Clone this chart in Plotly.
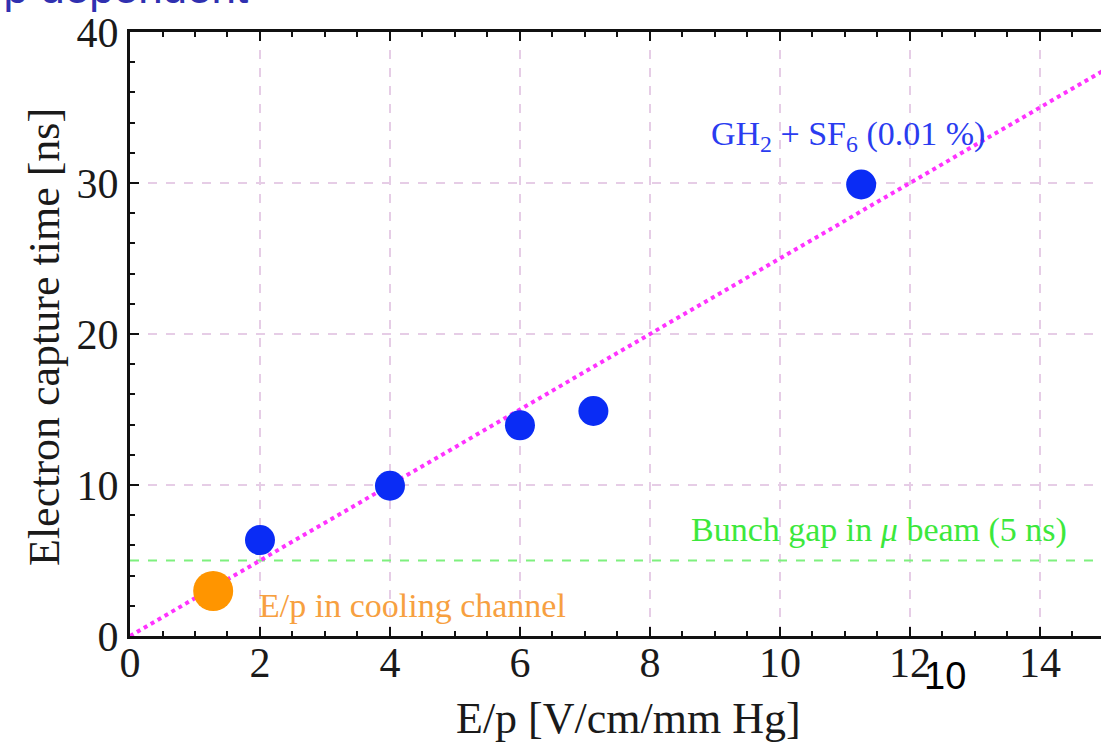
import plotly.graph_objects as go

# Data
ep_blue = [2.0, 4.0, 6.0, 7.13, 11.25]
t_blue = [6.35, 9.95, 13.95, 14.9, 29.9]
ep_orange = [1.28]
t_orange = [2.98]
fit_x = [0.0, 15.0]
fit_y = [0.0, 37.5]
gap_x = [0.0, 15.0]
gap_y = [5.0, 5.0]

SERIF = "Liberation Serif, Times New Roman, serif"
L, R, T, B = 130, 0, 32, 111
W, H = 1101, 747
PW, PH = W - L - R, H - T - B


def px(xp):
    return (xp - L) / PW


def py(yp):
    return (H - B - yp) / PH


fig = go.Figure()
fig.add_trace(go.Scatter(x=gap_x, y=gap_y, mode="lines",
                         line=dict(color="#7ef07e", width=2, dash="dash"),
                         hoverinfo="skip", showlegend=False))
fig.add_trace(go.Scatter(x=fit_x, y=fit_y, mode="lines",
                         line=dict(color="#ff33ff", width=4, dash="dot"),
                         hoverinfo="skip", showlegend=False))
fig.add_trace(go.Scatter(x=ep_blue, y=t_blue, mode="markers",
                         marker=dict(color="#0a2cf5", size=30, line=dict(width=0)),
                         showlegend=False))
fig.add_trace(go.Scatter(x=ep_orange, y=t_orange, mode="markers",
                         marker=dict(color="#ff9500", size=40, line=dict(width=0)),
                         showlegend=False))

grid = "#e6cde6"
fig.update_xaxes(range=[0, 14.94], dtick=2, tick0=0, automargin=False,
                 showline=True, linecolor="#111", linewidth=3, mirror="ticks",
                 ticks="inside", ticklen=9, tickwidth=2, tickcolor="#111",
                 minor=dict(dtick=0.5, ticks="inside", ticklen=5, tickwidth=2,
                            tickcolor="#111", showgrid=False),
                 showgrid=True, gridcolor=grid, gridwidth=1.5, griddash="dash",
                 zeroline=False,
                 tickfont=dict(family=SERIF, size=42, color="#1a1a1a"),
                 ticklabelstandoff=-12)
fig.update_yaxes(range=[0, 40], dtick=10, tick0=0, automargin=False,
                 showline=True, linecolor="#111", linewidth=3, mirror=False,
                 ticks="inside", ticklen=9, tickwidth=2, tickcolor="#111",
                 minor=dict(dtick=2, ticks="inside", ticklen=5, tickwidth=2,
                            tickcolor="#111", showgrid=False),
                 showgrid=True, gridcolor=grid, gridwidth=1.5, griddash="dash",
                 zeroline=False,
                 tickfont=dict(family=SERIF, size=42, color="#1a1a1a"),
                 ticklabelstandoff=0)

# axis titles
fig.add_annotation(x=px(628), y=py(718), xref="paper", yref="paper", text="E/p [V/cm/mm Hg]",
                   showarrow=False, xanchor="center", yanchor="middle",
                   font=dict(family=SERIF, size=44, color="#1a1a1a"))
fig.add_annotation(x=px(44), y=py(337), xref="paper", yref="paper", text="Electron capture time [ns]",
                   showarrow=False, xanchor="center", yanchor="middle", textangle=-90,
                   font=dict(family=SERIF, size=44, color="#1a1a1a"))

fig.add_annotation(x=11.05, y=33.1, xref="x", yref="y", text="GH<sub>2</sub> + SF<sub>6</sub> (0.01 %)",
                   showarrow=False, xanchor="center", yanchor="middle",
                   font=dict(family=SERIF, size=34, color="#2a3cf0"))
fig.add_annotation(x=14.45, y=7.0, xref="x", yref="y", text="Bunch gap in <i>μ</i> beam (5 ns)",
                   showarrow=False, xanchor="right", yanchor="middle",
                   font=dict(family=SERIF, size=34, color="#3ce83c"))
fig.add_annotation(x=1.95, y=2.05, xref="x", yref="y", text="E/p in cooling channel",
                   showarrow=False, xanchor="left", yanchor="middle",
                   font=dict(family=SERIF, size=34, color="#f7a040"))
# slide number
fig.add_annotation(x=px(945), y=py(676), xref="paper", yref="paper", text="10", showarrow=False,
                   font=dict(family="Liberation Sans Narrow, Liberation Sans, Arial", size=38, color="#000"),
                   xanchor="center", yanchor="middle")
# cut-off slide title at top
fig.add_annotation(x=px(250), y=py(14), xref="paper", yref="paper",
                   text="E/p dependent", showarrow=False, xanchor="right", yanchor="bottom",
                   font=dict(family="Liberation Sans, Arial", size=44, color="#3030b0"))

fig.update_layout(width=W, height=H,
                  margin=dict(l=L, r=R, t=T, b=B),
                  paper_bgcolor="white", plot_bgcolor="white",
                  showlegend=False)

fig.write_html("out.html", config={"displayModeBar": False},
               post_script="document.body.style.margin='0';document.body.style.overflow='hidden';")
